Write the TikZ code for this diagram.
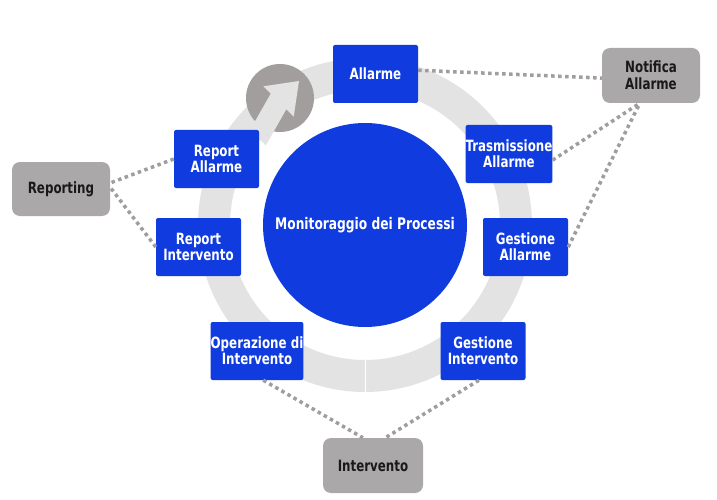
\documentclass[tikz,border=0pt]{standalone}
\usepackage{fontspec}
\setmainfont{DejaVu Sans Condensed}[FakeStretch=0.85]
\definecolor{boxblue}{HTML}{0F3BDF}
\definecolor{ringgray}{HTML}{E3E3E3}
\definecolor{circgray}{HTML}{A29E9E}
\definecolor{tagray}{HTML}{AAA8A8}
\definecolor{dotgray}{HTML}{9E9E9E}
\begin{document}
\begin{tikzpicture}[x=1pt,y=-1pt,
 bluebox/.style={fill=boxblue, rounded corners=2pt, minimum width=85pt, minimum height=58pt, text=white, font=\bfseries\fontsize{15.5}{16}\selectfont, align=center, inner sep=0pt},
 graybox/.style={fill=tagray, rounded corners=8pt, minimum width=98pt, minimum height=55pt, text=black!90, font=\bfseries\fontsize{15.5}{17}\selectfont, align=center, inner sep=0pt},
 dotline/.style={draw=dotgray, line width=3.5pt, dash pattern=on 3.5pt off 3.5pt}]
\useasboundingbox[fill=white] (0,0) rectangle (717,500);
% ring
\fill[ringgray, even odd rule] (365,225) circle (167pt) (365,225) circle (135pt);
\draw[white, line width=0.6pt] (365,360) -- (365,392);
% cycle marker
\node[circle, fill=circgray, minimum size=68pt, inner sep=0pt] (cyc) at (280,98) {};
\fill[ringgray] (250.2,129.8) -- (270.7,93.7) -- (263.3,86.3) -- (299,81) -- (293.7,116.7) -- (286.3,109.3) -- (265.8,145.4) -- cycle;
% central circle
\node[circle, fill=boxblue, minimum size=204pt, inner sep=0pt, text=white, font=\bfseries\fontsize{16}{18}\selectfont] (proc) at (365,225) {Monitoraggio dei Processi};
% blue boxes
\node[bluebox] (allarme) at (375.5,74) {Allarme};
\node[bluebox] (repA) at (216.5,159) {Report\\Allarme};
\node[bluebox] (repI) at (198.5,247) {Report\\Intervento};
\node[bluebox] (trasm) at (509,154) {Trasmissione\\Allarme};
\node[bluebox] (gestA) at (525.5,247) {Gestione\\Allarme};
\node[bluebox] (opz) at (257,351) {Operazione di\\Intervento};
\node[bluebox] (gestI) at (483,351) {Gestione\\Intervento};
% gray boxes
\node[graybox] (notif) at (651,75.5) {Notifica\\Allarme};
\node[graybox, minimum height=54pt] (reporting) at (61,189) {Reporting};
\node[graybox, minimum width=100pt] (interv) at (373,465.5) {Intervento};
% connectors
\draw[dotline] (allarme.5) -- (notif.183);
\draw[dotline] (trasm.-8) -- (notif.-112);
\draw[dotline] (gestA.east) -- (notif.-112);
\draw[dotline] (repA.west) -- (reporting.7);
\draw[dotline] (repI.west) -- (reporting.2);
\draw[dotline] (opz.-78) -- (interv.110);
\draw[dotline] (gestI.-98) -- (interv.66);
\end{tikzpicture}
\end{document}
